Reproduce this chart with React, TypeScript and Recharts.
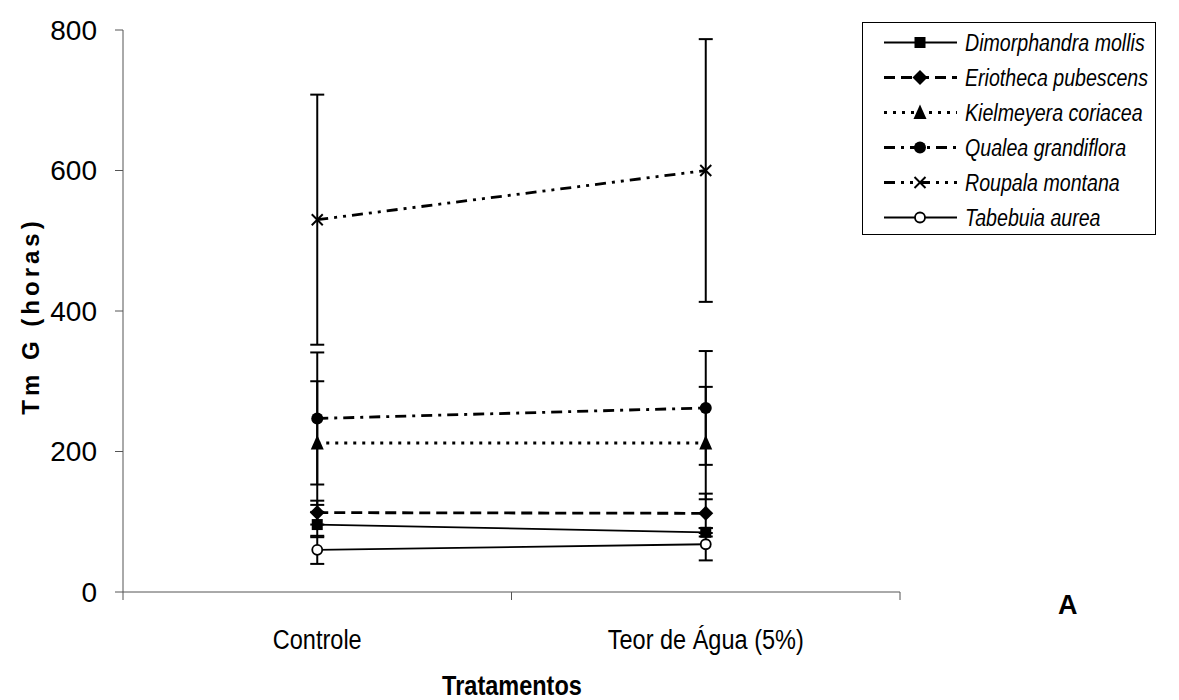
import { LineChart, Line, XAxis, YAxis, ErrorBar, Legend } from "recharts";

const categories = ["Controle", "Teor de Água (5%)"];
const yTicks = [0, 200, 400, 600, 800];

const dimorphandra = [96, 85];
const dimorphandraErr = [18, 6];
const eriotheca = [113, 112];
const eriothecaErr = [17, 28];
const kielmeyera = [212, 212];
const kielmeyeraErr = [88, 80];
const qualea = [247, 262];
const qualeaErr = [94, 81];
const roupala = [530, 600];
const roupalaErr = [178, 187];
const tabebuia = [60, 68];
const tabebuiaErr = [20, 23];

const SANS = "'Liberation Sans', Arial, sans-serif";

type Shape = "square" | "diamond" | "triangle" | "circle" | "cross" | "open";

function Marker({ cx, cy, shape }: { cx: number; cy: number; shape: Shape }) {
    if (cx == null || cy == null) return null;
    switch (shape) {
        case "square":
            return <rect x={cx - 5.5} y={cy - 5.5} width={11} height={11} fill="#000" />;
        case "diamond":
            return <polygon points={`${cx},${cy - 7.5} ${cx + 7.5},${cy} ${cx},${cy + 7.5} ${cx - 7.5},${cy}`} fill="#000" />;
        case "triangle":
            return <polygon points={`${cx},${cy - 8} ${cx + 6.5},${cy + 6.5} ${cx - 6.5},${cy + 6.5}`} fill="#000" />;
        case "circle":
            return <circle cx={cx} cy={cy} r={6} fill="#000" />;
        case "cross":
            return (
                <g stroke="#000" strokeWidth={2}>
                    <line x1={cx - 5.5} y1={cy - 5.5} x2={cx + 5.5} y2={cy + 5.5} />
                    <line x1={cx - 5.5} y1={cy + 5.5} x2={cx + 5.5} y2={cy - 5.5} />
                </g>
            );
        default:
            return <circle cx={cx} cy={cy} r={5} fill="#fff" stroke="#000" strokeWidth={1.8} />;
    }
}

const series: { key: string; name: string; values: number[]; errors: number[]; dash?: string; width: number; shape: Shape }[] = [
    { key: "dim", name: "Dimorphandra mollis", values: dimorphandra, errors: dimorphandraErr, width: 1.8, shape: "square" },
    { key: "eri", name: "Eriotheca pubescens", values: eriotheca, errors: eriothecaErr, dash: "11 6", width: 2.8, shape: "diamond" },
    { key: "kie", name: "Kielmeyera coriacea", values: kielmeyera, errors: kielmeyeraErr, dash: "3 6", width: 3, shape: "triangle" },
    { key: "qua", name: "Qualea grandiflora", values: qualea, errors: qualeaErr, dash: "11 6 3 6", width: 2.8, shape: "circle" },
    { key: "rou", name: "Roupala montana", values: roupala, errors: roupalaErr, dash: "11 6 3 6 3 6", width: 2.8, shape: "cross" },
    { key: "tab", name: "Tabebuia aurea", values: tabebuia, errors: tabebuiaErr, width: 1.8, shape: "open" },
];

const data = categories.map((name, i) => {
    const row: Record<string, string | number> = { name };
    series.forEach((s) => {
        row[s.key] = s.values[i];
        row[s.key + "Err"] = s.errors[i];
    });
    return row;
});

// narrow look: no Arial Narrow installed, so squeeze Liberation Sans horizontally
function NarrowText({ x, y, size, bold, children }: { x: number; y: number; size: number; bold?: boolean; children: any }) {
    return (
        <text
            transform={`translate(${x}, ${y}) scale(0.84, 1)`}
            textAnchor="middle"
            fontSize={size}
            fontWeight={bold ? "bold" : "normal"}
            fontFamily={SANS}
            fill="#000"
        >
            {children}
        </text>
    );
}

// category labels centred, tick marks between categories (Excel style)
function CategoryTick(props: any) {
    const { x, y, payload, width, visibleTicksCount, index } = props;
    const band = width / visibleTicksCount;
    const left = x - band / 2;
    const right = x + band / 2;
    return (
        <g>
            <line x1={left} y1={y - 8} x2={left} y2={y} stroke="#555" strokeWidth={1} />
            {index === visibleTicksCount - 1 && <line x1={right} y1={y - 8} x2={right} y2={y} stroke="#555" strokeWidth={1} />}
            <NarrowText x={x} y={y + 49} size={28}>
                {payload.value}
            </NarrowText>
        </g>
    );
}

function LegendBox() {
    return (
        <div style={{ border: "1px solid #000", background: "#fff", width: 294, height: 213, paddingTop: 2, boxSizing: "border-box" }}>
            {series.map((s) => (
                <div key={s.key} style={{ display: "flex", alignItems: "center", height: 35 }}>
                    <svg width={102} height={35} style={{ flexShrink: 0 }}>
                        <line x1={21} y1={17.5} x2={94} y2={17.5} stroke="#000" strokeWidth={s.width} strokeDasharray={s.dash} />
                        <Marker cx={57} cy={17.5} shape={s.shape} />
                    </svg>
                    <span
                        style={{
                            display: "inline-block",
                            fontFamily: SANS,
                            fontStyle: "italic",
                            fontSize: 24.5,
                            color: "#000",
                            whiteSpace: "nowrap",
                            transform: "scaleX(0.8)",
                            transformOrigin: "left center",
                        }}
                    >
                        {s.name}
                    </span>
                </div>
            ))}
        </div>
    );
}

export default function App() {
    return (
        <div style={{ position: "absolute", left: 0, top: 0, width: 1179, height: 700, background: "#fff" }}>
            <LineChart width={1179} height={700} data={data} margin={{ top: 30, right: 279, bottom: 48, left: 10 }}>
                <XAxis
                    dataKey="name"
                    type="category"
                    scale="band"
                    height={60}
                    stroke="#555"
                    tickLine={false}
                    tickSize={8}
                    tickMargin={0}
                    interval={0}
                    tick={<CategoryTick />}
                    label={{
                        content: () => (
                            <NarrowText x={512} y={695} size={28} bold>
                                Tratamentos
                            </NarrowText>
                        ),
                    }}
                />
                <YAxis
                    type="number"
                    domain={[0, 800]}
                    ticks={yTicks}
                    width={113}
                    stroke="#555"
                    tickSize={8}
                    tickMargin={18}
                    tick={{ fill: "#000", fontSize: 28, fontFamily: SANS }}
                    label={{
                        content: () => (
                            <text
                                x={0}
                                y={0}
                                transform="translate(39, 316) rotate(-90)"
                                textAnchor="middle"
                                fontSize={24}
                                fontWeight="bold"
                                letterSpacing={4}
                                fontFamily={SANS}
                                fill="#000"
                            >
                                Tm G (horas)
                            </text>
                        ),
                    }}
                />
                <Legend
                    layout="horizontal"
                    verticalAlign="middle"
                    align="center"
                    wrapperStyle={{ left: 862, top: 22, width: 296, height: 215 }}
                    content={() => <LegendBox />}
                />
                {series.map((s) => (
                    <Line
                        key={s.key}
                        dataKey={s.key}
                        name={s.name}
                        stroke="#000"
                        strokeWidth={s.width}
                        strokeDasharray={s.dash}
                        dot={(p: any) => <Marker key={`${s.key}-${p.index}`} cx={p.cx} cy={p.cy} shape={s.shape} />}
                        activeDot={false}
                        isAnimationActive={false}
                    >
                        <ErrorBar dataKey={s.key + "Err"} direction="y" width={7} stroke="#000" strokeWidth={2} isAnimationActive={false} />
                    </Line>
                ))}
            </LineChart>
            <div style={{ position: "absolute", left: 1058, top: 590, fontFamily: SANS, fontWeight: "bold", fontSize: 27 }}>A</div>
        </div>
    );
}
